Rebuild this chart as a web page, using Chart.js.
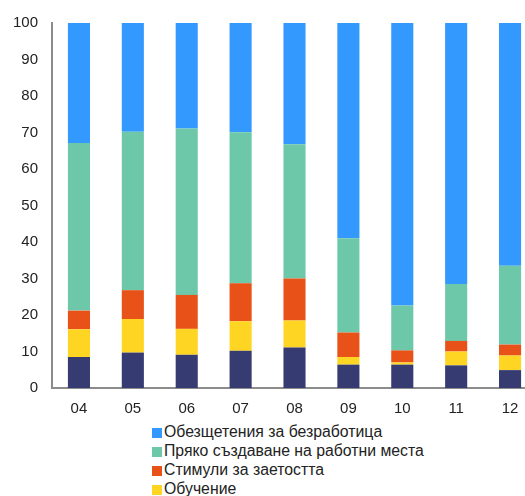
<!DOCTYPE html>
<html>
<head>
<meta charset="utf-8">
<script src="https://cdn.jsdelivr.net/npm/chart.js@4/dist/chart.umd.min.js"></script>
<style>
  html, body { margin: 0; padding: 0; background: #fff; overflow: hidden; }
  body { width: 525px; height: 496px; position: relative; font-family: "Liberation Sans", Arial, sans-serif; }
  #wrap { position: absolute; left: 0; top: 0; width: 537px; height: 420px; }
  #legend { position: absolute; left: 152px; top: 422px; font-size: 15.8px; color: #222; }
  #legend div { height: 19px; line-height: 19px; white-space: nowrap; }
  #legend span { display: inline-block; width: 10px; height: 10px; margin-right: 2px; vertical-align: -1px; }
</style>
</head>
<body>
<div id="wrap"><canvas id="myChart"></canvas></div>
<div id="legend"></div>
<script>
// years
const years = ['04', '05', '06', '07', '08', '09', '10', '11', '12'];

// shares, % (bottom to top)
const other = [8.5, 9.7, 9.1, 10.2, 11.1, 6.4, 6.4, 6.2, 4.9];
const training = [7.6, 9.2, 7.1, 8.1, 7.4, 2.1, 0.6, 3.8, 4.0];
const incentives = [5.1, 7.9, 9.3, 10.4, 11.5, 6.7, 3.3, 2.9, 3.0];
const jobCreation = [45.9, 43.4, 45.6, 41.4, 36.8, 25.8, 12.3, 15.6, 21.6];
const benefits = [32.9, 29.8, 28.9, 29.9, 33.2, 59.0, 77.4, 71.5, 66.5];

const yTicks = [0, 10, 20, 30, 40, 50, 60, 70, 80, 90, 100];

const datasets = [
    { label: '', data: other, backgroundColor: '#363b72' },
    { label: 'Обучение', data: training, backgroundColor: '#ffd524' },
    { label: 'Стимули за заетостта', data: incentives, backgroundColor: '#e85218' },
    { label: 'Пряко създаване на работни места', data: jobCreation, backgroundColor: '#6dc8a9' },
    { label: 'Обезщетения за безработица', data: benefits, backgroundColor: '#3399ff' }
];
datasets.forEach(d => {
    d.barPercentage = 0.41;
    d.categoryPercentage = 1;
    d.borderWidth = 0;
});

// legend, top series first
const legend = document.getElementById('legend');
datasets.slice().reverse().forEach(d => {
    if (!d.label) return;
    const row = document.createElement('div');
    row.innerHTML = '<span style="background:' + d.backgroundColor + '"></span>' + d.label;
    legend.appendChild(row);
});

const ctx = document.getElementById('myChart').getContext('2d');
const myChart = new Chart(ctx, {
    type: 'bar',
    data: { labels: years, datasets: datasets },
    options: {
        responsive: true,
        maintainAspectRatio: false,
        animation: false,
        layout: { padding: { left: 0, top: 13, right: 0, bottom: 1 } },
        scales: {
            x: {
                stacked: true,
                afterFit: scale => { scale.height = 31; },
                grid: { display: false, drawTicks: false },
                border: { display: true, color: '#8c8c8c', width: 2 },
                ticks: { color: '#222', padding: 12, font: { family: 'Liberation Sans', size: 15 } }
            },
            y: {
                stacked: true,
                min: 0,
                max: 100,
                afterBuildTicks: scale => { scale.ticks = yTicks.map(v => ({ value: v })); },
                afterFit: scale => { scale.width = 52; },
                grid: { display: false, drawTicks: false },
                border: { display: true, color: '#8c8c8c', width: 2 },
                ticks: { color: '#222', padding: 14, font: { family: 'Liberation Sans', size: 15 } }
            }
        },
        plugins: {
            legend: { display: false },
            tooltip: { enabled: false }
        }
    }
});
</script>
</body>
</html>
